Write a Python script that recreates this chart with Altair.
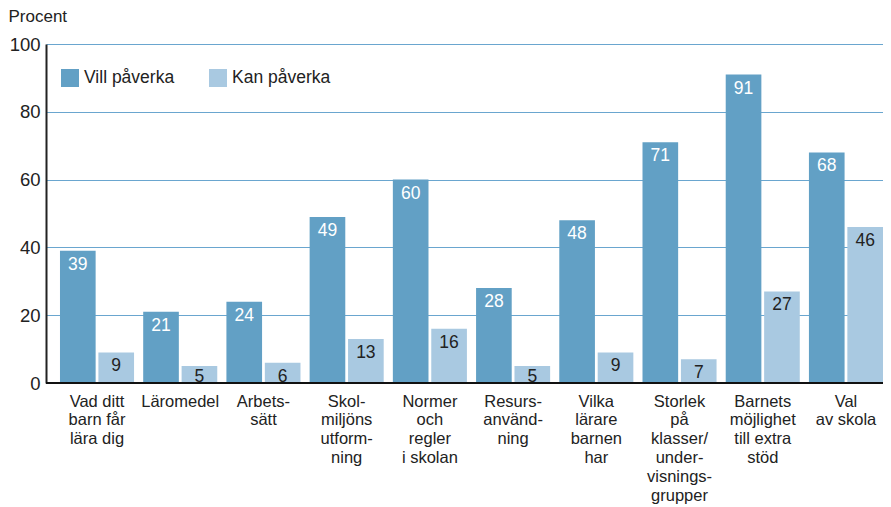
import altair as alt
import pandas as pd

categories = [
    "Vad ditt|barn får|lära dig", "Läromedel", "Arbets-|sätt",
    "Skol-|miljöns|utform-|ning", "Normer|och|regler|i skolan",
    "Resurs-|använd-|ning", "Vilka|lärare|barnen|har",
    "Storlek|på|klasser/|under-|visnings-|grupper",
    "Barnets|möjlighet|till extra|stöd", "Val|av skola",
]
vill = [39, 21, 24, 49, 60, 28, 48, 71, 91, 68]
kan = [9, 5, 6, 13, 16, 5, 9, 7, 27, 46]
series = ["Vill påverka", "Kan påverka"]

rows = []
for c, v, k in zip(categories, vill, kan):
    rows.append({"cat": c, "series": series[0], "value": v, "txtcol": "#ffffff"})
    rows.append({"cat": c, "series": series[1], "value": k, "txtcol": "#222222"})
df = pd.DataFrame(rows)

FONT = "Liberation Sans"
W, H = 837, 339

x = alt.X("cat:N", sort=categories,
          scale=alt.Scale(paddingInner=0.11, paddingOuter=0.084, align=1),
          axis=alt.Axis(title=None, labelAngle=0, labelExpr="split(datum.label, '|')",
                        labelFontSize=16.5, labelLineHeight=18.8, labelColor="#222",
                        labelPadding=10, ticks=False, domain=False, labelFont=FONT,
                        labelBaseline="top"))
xo = alt.XOffset("series:N", sort=series, scale=alt.Scale(domain=series, paddingInner=0.072))
y = alt.Y("value:Q", scale=alt.Scale(domain=[0, 100], nice=False),
          axis=alt.Axis(values=[0, 20, 40, 60, 80, 100], title="Procent", titleAngle=0,
                        titleX=-38, titleY=-23, titleAlign="left", titleBaseline="alphabetic",
                        titleFontSize=17, titleFontWeight="normal", titleColor="#222",
                        titleFont=FONT, labelFont=FONT,
                        labelFontSize=18.5, labelColor="#222", ticks=False, labelPadding=6,
                        domainColor="#222", domainWidth=2, gridColor="#6aa6cf",
                        gridWidth=1.2))

bars = alt.Chart(df).mark_bar().encode(
    x=x, xOffset=xo, y=y,
    color=alt.Color("series:N", sort=series,
                    scale=alt.Scale(domain=series, range=["#62a0c5", "#a9c9e1"]),
                    legend=alt.Legend(title=None, orient="none", legendX=15, legendY=25,
                                      direction="horizontal", symbolType="square",
                                      symbolSize=324, symbolStrokeWidth=0,
                                      labelFontSize=17.5, labelColor="#222", labelFont=FONT,
                                      labelOffset=5, columnPadding=34)),
)

labels = alt.Chart(df).transform_calculate(
    ty="max(datum.value, 6)"
).mark_text(fontSize=17.5, dy=19, baseline="alphabetic", font=FONT).encode(
    x=alt.X("cat:N", sort=categories), xOffset=xo, y="ty:Q",
    text="value:Q",
    color=alt.Color("txtcol:N", scale=None),
)

baseline = alt.Chart(pd.DataFrame({"v": [0]})).mark_rule(color="#111", strokeWidth=2).encode(
    y="v:Q", x=alt.value(0), x2=alt.value(W)
)

chart = alt.layer(bars, labels, baseline).properties(
    width=W, height=H,
    autosize=alt.AutoSizeParams(type="none"),
    padding={"left": 38, "top": 36, "right": 0, "bottom": 124},
).configure_view(stroke=None).configure_axisX(grid=False)

chart.save("out.html", embed_options={"renderer": "svg", "actions": False})
